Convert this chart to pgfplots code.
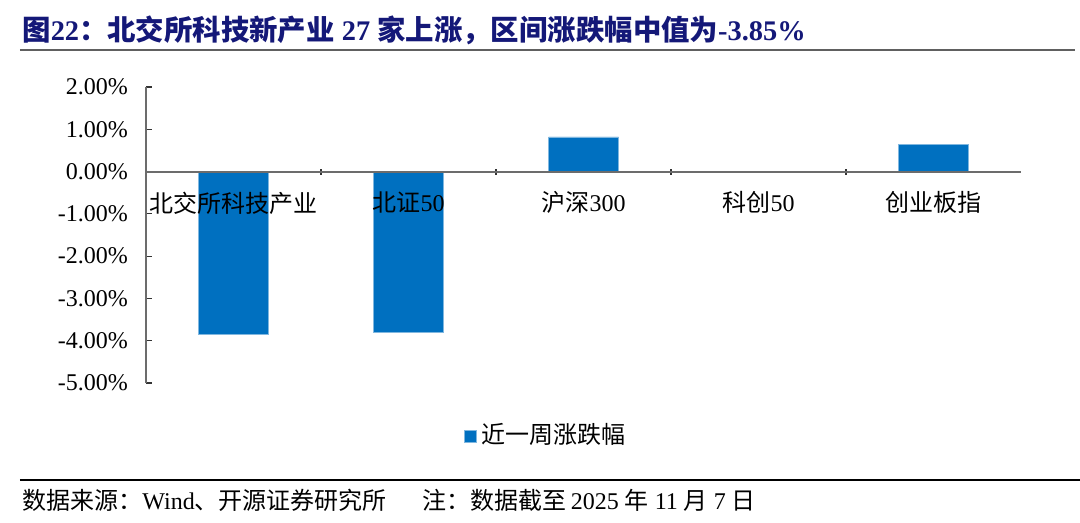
\documentclass[border=0pt]{standalone}
\usepackage{fontspec}
\setmainfont{Liberation Serif}
\newfontfamily\cjk{Noto Sans CJK SC}
\usepackage{pgfplots}
\pgfplotsset{compat=1.18}
\definecolor{barblue}{RGB}{0,112,192}
\definecolor{titleblue}{RGB}{20,24,120}
\begin{document}
\begin{tikzpicture}
\begin{axis}[
  name=ax,
  scale only axis, width=437.5pt, height=148pt,
  xmin=-0.5, xmax=4.5, ymin=-5, ymax=2,
  axis x line*=middle, axis y line*=left,
  axis line style={gray!85!black,line width=1pt},
  ytick={-5,-4,...,2},
  tick align=inside,
  major tick length=3pt,
  tick style={black!80,line width=0.6pt},
  yticklabel={\pgfmathprintnumber[fixed,fixed zerofill,precision=2]{\tick}\%},
  /pgf/number format/assume math mode=true,
  yticklabel style={font=\fontsize{12}{14}\selectfont, xshift=-5.5pt},
  xtick={0.5,1.5,2.5,3.5},
  xticklabels={},
  xtick style={yshift=1.5pt},
  extra x ticks={0,1,2,3,4},
  extra x tick labels={{\cjk 北交所科技产业},{\cjk 北证}50,{\cjk 沪深}300,{\cjk 科创}50,{\cjk 创业板指}},
  extra x tick style={major tick length=0pt, xticklabel style={font=\fontsize{12}{14}\selectfont, yshift=-6.5pt}},
  axis on top,
  ybar, bar width=35pt,
  legend style={at={(axis description cs:0.458,-0.176)},anchor=center,draw=none,font=\fontsize{12}{14}\selectfont,legend cell align=left},
  legend image code/.code={\fill[#1] (0pt,-3.5pt) rectangle (6pt,2.5pt);},
]
\addplot[fill=barblue,draw=barblue!50!white,line width=0.3pt] coordinates {(0,-3.85) (1,-3.80) (2,0.82) (3,-0.02) (4,0.64)};
\addlegendentry{\cjk 近一周涨跌幅}
\coordinate (O) at (axis cs:-0.5,-5);
\end{axis}
\begin{scope}[shift={(O)},xshift=-73pt,yshift=-70pt,x=1pt,y=1pt]
\pgfresetboundingbox
\useasboundingbox (0,0) rectangle (540,261.5);
% title
\node[anchor=west,inner sep=0pt,text=titleblue,font=\fontsize{14.2}{16}\selectfont\bfseries] at (11,246.5)
 {{\cjk\bfseries 图}22{\cjk\bfseries ：北交所科技新产业} 27 {\cjk\bfseries 家上涨，区间涨跌幅中值为}-3.85\%};
\draw[gray!75!black,line width=1pt] (10,236.5) -- (537.5,236.5);
% footer
\draw[black,line width=0.6pt] (10,21.5) -- (540,21.5);
\node[anchor=west,inner sep=0pt,font=\fontsize{12}{14}\selectfont] at (11,11.5)
 {{\cjk 数据来源：}Wind{\cjk 、开源证券研究所}\hspace{1.5em}{\cjk 注：数据截至}\,2025 {\cjk 年} 11 {\cjk 月} 7 {\cjk 日}};
\end{scope}
\end{tikzpicture}
\end{document}
